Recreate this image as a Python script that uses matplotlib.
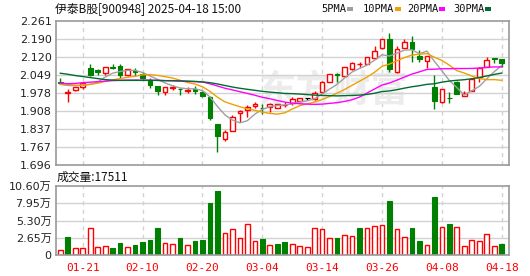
import numpy as np
import pandas as pd
import matplotlib
matplotlib.use("Agg")
import matplotlib.pyplot as plt
from matplotlib.patches import Rectangle

# ---------------- data ----------------
dates = ["01-16", "01-17", "01-20", "01-21", "01-22", "01-23", "01-24", "01-27", "02-05", "02-06",
         "02-07", "02-10", "02-11", "02-12", "02-13", "02-14", "02-17", "02-18", "02-19", "02-20",
         "02-21", "02-24", "02-25", "02-26", "02-27", "02-28", "03-03", "03-04", "03-05", "03-06",
         "03-07", "03-10", "03-11", "03-12", "03-13", "03-14", "03-17", "03-18", "03-19", "03-20",
         "03-21", "03-24", "03-25", "03-26", "03-27", "03-28", "03-31", "04-01", "04-02", "04-03",
         "04-07", "04-08", "04-09", "04-10", "04-11", "04-14", "04-15", "04-16", "04-17", "04-18"]

opens = [2.022, 1.979, 1.989, 2.004, 2.078, 2.068, 2.058, 2.080, 2.084, 2.048,
         2.066, 2.055, 2.027, 2.007, 1.981, 1.998, 1.996, 1.987, 1.994, 1.981,
         1.962, 1.858, 1.799, 1.830, 1.901, 1.913, 1.926, 1.921, 1.922, 1.920,
         1.931, 1.941, 1.946, 1.957, 1.956, 1.981, 2.023, 2.052, 2.046, 2.072,
         2.092, 2.093, 2.117, 2.154, 2.190, 2.060, 2.154, 2.177, 2.125, 2.104,
         2.001, 1.943, 1.960, 2.023, 1.965, 1.988, 2.040, 2.082, 2.114, 2.111]
closes = [2.018, 1.981, 2.001, 2.016, 2.050, 2.059, 2.079, 2.077, 2.050, 2.071,
          2.060, 2.036, 2.008, 1.985, 2.001, 2.004, 1.994, 1.991, 1.985, 1.966,
          1.880, 1.808, 1.825, 1.884, 1.909, 1.923, 1.937, 1.918, 1.936, 1.934,
          1.933, 1.956, 1.957, 1.957, 1.980, 2.023, 2.053, 2.050, 2.080, 2.098,
          2.093, 2.119, 2.144, 2.189, 2.073, 2.150, 2.177, 2.151, 2.112, 2.125,
          1.949, 1.994, 1.958, 1.974, 1.978, 2.033, 2.078, 2.108, 2.113, 2.098]
highs = [2.036, 1.994, 2.002, 2.018, 2.091, 2.073, 2.080, 2.094, 2.091, 2.073,
         2.075, 2.059, 2.036, 2.007, 2.002, 2.010, 1.997, 2.004, 2.007, 1.985,
         1.967, 1.858, 1.834, 1.892, 1.910, 1.930, 1.944, 1.935, 1.941, 1.937,
         1.944, 1.963, 1.957, 1.957, 1.987, 2.025, 2.055, 2.056, 2.081, 2.102,
         2.102, 2.120, 2.163, 2.190, 2.215, 2.161, 2.190, 2.204, 2.147, 2.125,
         2.050, 1.995, 1.984, 2.027, 1.988, 2.034, 2.079, 2.119, 2.114, 2.111]
lows = [2.013, 1.942, 1.988, 1.995, 2.046, 2.051, 2.050, 2.073, 2.039, 2.045,
        2.045, 2.033, 1.998, 1.969, 1.969, 1.989, 1.969, 1.978, 1.975, 1.962,
        1.872, 1.747, 1.789, 1.830, 1.863, 1.884, 1.918, 1.897, 1.902, 1.918,
        1.924, 1.933, 1.945, 1.951, 1.952, 1.978, 2.020, 2.023, 2.044, 2.067,
        2.082, 2.091, 2.117, 2.150, 2.060, 2.058, 2.154, 2.102, 2.102, 2.076,
        1.915, 1.941, 1.941, 1.974, 1.965, 1.987, 2.020, 2.082, 2.095, 2.082]

# volume in 万 (10k shares)
volumes = [0.77, 2.77, 1.00, 1.00, 4.10, 1.18, 1.44, 1.08, 1.85, 1.18,
           1.54, 2.00, 2.30, 4.15, 1.80, 1.64, 2.60, 1.49, 2.15, 2.30,
           8.00, 9.85, 3.33, 3.95, 2.56, 4.72, 2.10, 2.46, 1.49, 1.69,
           2.00, 1.64, 1.33, 1.18, 4.10, 3.95, 2.56, 2.60, 3.03, 2.87,
           4.15, 4.10, 4.40, 4.56, 8.30, 3.95, 2.72, 4.15, 2.15, 1.49,
           8.90, 4.26, 4.77, 4.26, 1.33, 2.26, 2.15, 3.18, 1.33, 1.75]
vol_up = [1, 0, 1, 1, 1, 1, 1, 0, 0, 1,
          0, 0, 0, 0, 1, 1, 0, 1, 0, 0,
          0, 0, 1, 1, 1, 1, 1, 0, 1, 0,
          0, 1, 1, 1, 1, 1, 1, 0, 1, 1,
          0, 1, 1, 1, 0, 1, 1, 0, 0, 1,
          0, 1, 0, 1, 1, 1, 1, 1, 1, 0]

# moving-average values before a full window is available
ma5_head = [2.012, 2.008, 2.007, 2.010]
ma10_head = [2.013, 2.012, 2.009, 2.008, 2.012, 2.017, 2.024, 2.030, 2.035]
ma20_head = [2.017, 2.015, 2.016, 2.019, 2.021, 2.023, 2.025, 2.027, 2.028, 2.029,
             2.029, 2.029, 2.029, 2.028, 2.027, 2.026, 2.025, 2.024, 2.023]
ma30_head = [2.056, 2.052, 2.047, 2.043, 2.039, 2.035, 2.031, 2.029, 2.028, 2.028,
             2.028, 2.028, 2.028, 2.028, 2.027, 2.027, 2.026, 2.025, 2.024, 2.022,
             2.019, 2.014, 2.008, 2.002, 1.997, 1.993, 1.989, 1.985, 1.982]

price_ticks = [1.696, 1.767, 1.837, 1.908, 1.978, 2.049, 2.120, 2.190, 2.261]
vol_ticks = [0, 2.65, 5.30, 7.95, 10.60]
vol_tick_labels = ["0", "2.65万", "5.30万", "7.95万", "10.60万"]
date_ticks = ["01-21", "02-10", "02-20", "03-04", "03-14", "03-26", "04-08", "04-18"]

title = "伊泰B股[900948] 2025-04-18 15:00"
vol_title = "成交量:17511"
ma_names = ["5PMA", "10PMA", "20PMA", "30PMA"]

# ---------------- styling ----------------
RED = "#ff0000"
GREEN = "#008000"
MA_COLORS = ["#a0a0a0", "#f0a000", "#ff00ff", "#006c30"]
GRID = "#d2d2d2"
FRAME = "#9a9a9a"
CJK = ["Noto Sans CJK SC", "DejaVu Sans"]
NUM = ["DejaVu Sans", "Noto Sans CJK SC"]

W, H = 530, 276
fig = plt.figure(figsize=(W / 100, H / 100), dpi=100)
fig.patch.set_facecolor("white")


def rect(x0, y0, x1, y1):
    return [x0 / W, 1 - y1 / H, (x1 - x0) / W, (y1 - y0) / H]


ax = fig.add_axes(rect(55.7, 21, 509, 165))
axv = fig.add_axes(rect(55.7, 186, 509, 255))

n = len(dates)
x = np.arange(n)
o = np.array(opens); c = np.array(closes); hi = np.array(highs); lo = np.array(lows)

# moving averages
s = pd.Series(closes)
mas = []
for win, head in [(5, ma5_head), (10, ma10_head), (20, ma20_head), (30, ma30_head)]:
    m = s.rolling(win).mean().to_numpy()
    m[:len(head)] = head
    mas.append(m)

xmin, xmax = -0.62, n - 0.02
tick_pos = [dates.index(d) for d in date_ticks]

for a in (ax, axv):
    a.set_xlim(xmin, xmax)
    for sp in a.spines.values():
        sp.set_color(FRAME)
        sp.set_linewidth(1.2)
    for p in tick_pos:
        a.axvline(p, color=GRID, lw=1, ls=(0, (3, 3)), zorder=0)

# watermark
ax.text(36.5, 1.985, "东方财富", fontsize=27, color="#ececec", family=CJK,
        ha="center", va="center", zorder=0, fontweight="bold")

# price panel
ax.set_ylim(price_ticks[0], price_ticks[-1])
for t in price_ticks[1:-1]:
    ax.axhline(t, color=GRID, lw=1, zorder=0)
ax.set_yticks(price_ticks)
ax.set_yticklabels(["%.3f" % t for t in price_ticks])
ax.set_xticks([])
ax.tick_params(axis="y", length=0, pad=3, labelsize=8, labelcolor="#222222")

bw = 0.62
for i in range(n):
    if c[i] > o[i]:
        col = RED
    elif c[i] < o[i]:
        col = GREEN
    else:
        col = "#000000"
    ax.vlines(x[i], lo[i], hi[i], color=col, lw=1, zorder=2)
    bot = min(o[i], c[i]); h = abs(c[i] - o[i])
    if col == RED:
        ax.bar(x[i], h, bw, bot, facecolor="white", edgecolor=col, lw=1, zorder=2.5)
    else:
        ax.bar(x[i], max(h, 0.0008), bw, bot, facecolor=col, edgecolor=col, lw=0.8, zorder=2.5)

for m, col in zip(mas, MA_COLORS):
    ax.plot(x, m, color=col, lw=1, zorder=3)

# volume panel
axv.set_ylim(vol_ticks[0], vol_ticks[-1])
for t in vol_ticks[1:-1]:
    axv.axhline(t, color=GRID, lw=1, zorder=0)
axv.set_yticks(vol_ticks)
axv.set_yticklabels(vol_tick_labels, family=NUM)
axv.tick_params(axis="y", length=0, pad=3, labelsize=8, labelcolor="#222222")
for i in range(n):
    if vol_up[i]:
        axv.bar(x[i], volumes[i], bw, facecolor="white", edgecolor=RED, lw=1, zorder=2)
    else:
        axv.bar(x[i], volumes[i], bw, facecolor=GREEN, edgecolor=GREEN, lw=0.8, zorder=2)
axv.set_xticks(tick_pos)
axv.set_xticklabels(date_ticks, family=["DejaVu Sans Mono"])
axv.tick_params(axis="x", length=0, pad=6, labelsize=8, labelcolor=RED)

# header texts
fig.text(55 / W, 1 - 8.5 / H, title, family=CJK, fontsize=8.5, color="#111111",
         ha="left", va="center")
fig.text(57 / W, 1 - 177.5 / H, vol_title, family=CJK, fontsize=8.5, color="#111111",
         ha="left", va="center")
leg_x = [321, 363, 407, 453]
for name, lx, col in zip(ma_names, leg_x, MA_COLORS):
    t = fig.text(lx / W, 1 - 8.5 / H, name, family=["DejaVu Sans Mono"], fontsize=7.5,
                 color="#111111", ha="left", va="center")
    fig.patches.append(Rectangle(((lx + 26 + (6 if len(name) > 4 else 0)) / W, 1 - 10.7 / H),
                                 6 / W, 3.4 / H, transform=fig.transFigure,
                                 facecolor=col, edgecolor="none"))

fig.savefig("out.png", dpi=100, facecolor="white")
